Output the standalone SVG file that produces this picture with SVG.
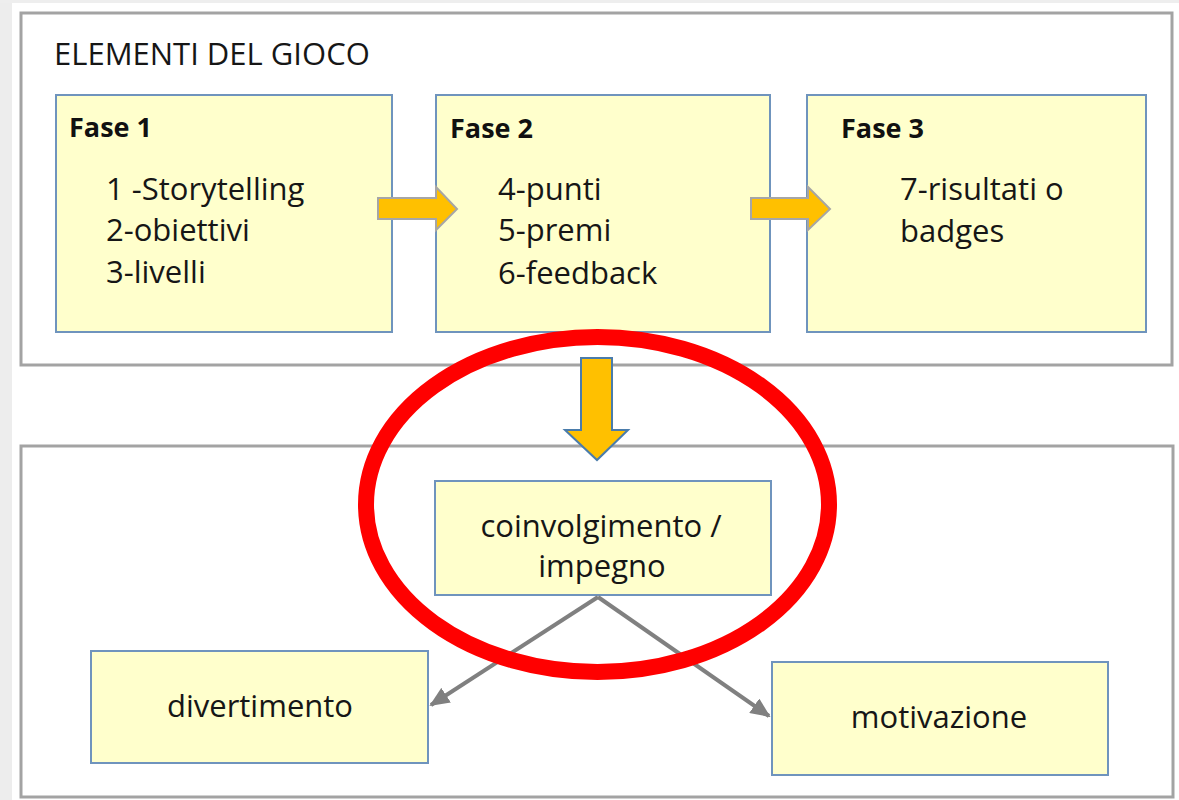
<svg xmlns="http://www.w3.org/2000/svg" width="1179" height="800" viewBox="0 0 1179 800">
<style>
.frame{fill:#ffffff;stroke:#a3a3a3;stroke-width:3}
.box{fill:#ffffcc;stroke:#6f94bd;stroke-width:2}
.t{font-family:"Open Sans","Liberation Sans",sans-serif;font-size:31px;fill:#161616}
.b{font-family:"Open Sans","Liberation Sans",sans-serif;font-size:27px;font-weight:bold;fill:#111}
.c{text-anchor:middle}
.blk{fill:#ffc000;stroke:#a6a6a6;stroke-width:2;stroke-linejoin:miter}
.blkd{fill:#ffc000;stroke:#4a7cab;stroke-width:2}
.ln{stroke:#808080;stroke-width:4;fill:none}
</style>
<defs>
<marker id="ah" viewBox="0 0 10 10" refX="9" refY="5" markerWidth="5" markerHeight="4.4" orient="auto" markerUnits="strokeWidth" preserveAspectRatio="none">
<path d="M0,0 L10,5 L0,10 z" fill="#808080"/>
</marker>
</defs>
<rect x="0" y="0" width="1179" height="800" fill="#ffffff"/>
<rect x="0" y="0" width="12" height="800" fill="#ededed"/>
<rect x="0" y="0" width="1179" height="3" fill="#eeeeee"/>

<g id="frame-top">
<rect class="frame" x="21" y="13" width="1151" height="352"/>
<text class="t" x="54" y="65">ELEMENTI DEL GIOCO</text>
</g>
<g id="frame-bottom">
<rect class="frame" x="21" y="446" width="1152" height="351"/>
</g>

<g id="fase1">
<rect class="box" x="56" y="95" width="336" height="237"/>
<text class="b" x="69" y="137">Fase 1</text>
<text class="t" x="106" y="200">1 -Storytelling</text>
<text class="t" x="106" y="241">2-obiettivi</text>
<text class="t" x="106" y="283">3-livelli</text>
</g>
<g id="fase2">
<rect class="box" x="436" y="95" width="334" height="237"/>
<text class="b" x="450" y="138">Fase 2</text>
<text class="t" x="498" y="200">4-punti</text>
<text class="t" x="498" y="241">5-premi</text>
<text class="t" x="498" y="284">6-feedback</text>
</g>
<g id="fase3">
<rect class="box" x="807" y="95" width="339" height="237"/>
<text class="b" x="841" y="138">Fase 3</text>
<text class="t" x="900" y="200">7-risultati o</text>
<text class="t" x="900" y="242">badges</text>
</g>

<g id="coinvolgimento">
<rect class="box" x="435" y="481" width="336" height="114"/>
<text class="t c" x="601" y="537">coinvolgimento /</text>
<text class="t c" x="602" y="577">impegno</text>
</g>
<g id="divertimento">
<rect class="box" x="91" y="651" width="337" height="112"/>
<text class="t c" x="260" y="717">divertimento</text>
</g>
<g id="motivazione">
<rect class="box" x="772" y="662" width="336" height="113"/>
<text class="t c" x="939" y="728">motivazione</text>
</g>

<g id="connectors">
<path class="blk" d="M378,198 H436 V187 L457,209 L436,230 V219 H378 Z"/>
<path class="blk" d="M751,198 H808 V187 L830,209 L808,230 V219 H751 Z"/>
<path class="blkd" d="M581,358 H612 V430 H628 L597,460 L565,430 H581 Z"/>
<line class="ln" x1="598" y1="597" x2="431" y2="705" marker-end="url(#ah)"/>
<line class="ln" x1="598" y1="597" x2="769" y2="716" marker-end="url(#ah)"/>
</g>

<g id="highlight">
<ellipse cx="597.5" cy="504.5" rx="231.5" ry="167.5" fill="none" stroke="#ff0000" stroke-width="16"/>
</g>
</svg>
